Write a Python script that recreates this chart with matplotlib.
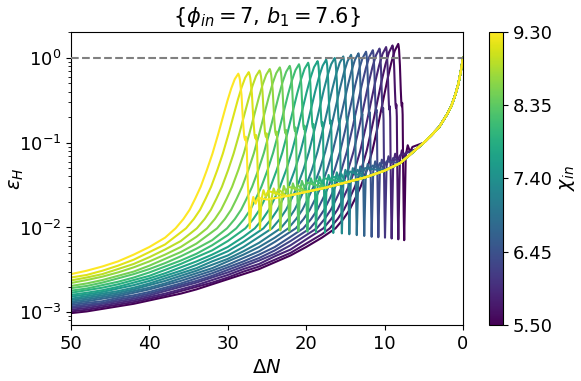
import matplotlib
matplotlib.use("Agg")
import matplotlib.pyplot as plt
import numpy as np

# colour parameter of each run
chi_in = [5.5, 5.7, 5.9, 6.1, 6.3, 6.5, 6.7, 6.9, 7.1, 7.3,
          7.5, 7.7, 7.9, 8.1, 8.3, 8.5, 8.7, 8.9, 9.1, 9.3]

# Delta N of the first big peak and of the deep dip after it
dn_peak = [8.26, 8.99, 9.81, 10.65, 11.50, 12.37, 13.33, 14.28, 15.27, 16.36,
           17.45, 18.55, 19.75, 20.92, 22.10, 23.37, 24.65, 25.95, 27.33, 28.66]
dn_trough = [7.50, 8.25, 9.10, 9.95, 10.80, 11.65, 12.60, 13.55, 14.50, 15.45,
             16.55, 17.60, 18.75, 19.85, 21.00, 22.15, 23.30, 24.60, 25.90, 27.20]

# log10(eps_H) at Delta N = 50
log_start = [-3.01, -2.99, -2.97, -2.95, -2.935, -2.915, -2.895, -2.875, -2.855, -2.84,
             -2.815, -2.795, -2.77, -2.745, -2.715, -2.69, -2.655, -2.625, -2.59, -2.55]

# slow rise: log10(eps_H) read at Delta N = 48, 46, 44, ... (each run until it nears its peak)
far_dn = [48, 46, 44, 42, 40, 38, 36, 34, 32, 30, 28, 26, 24, 22, 20, 18]
far_log = [
    [-2.99, -2.96, -2.93, -2.90, -2.86, -2.82, -2.78, -2.73, -2.67, -2.61, -2.55, -2.49, -2.41, -2.33, -2.23, -2.12],
    [-2.97, -2.94, -2.91, -2.88, -2.84, -2.80, -2.75, -2.70, -2.65, -2.59, -2.52, -2.46, -2.38, -2.30, -2.19, -2.08],
    [-2.95, -2.92, -2.89, -2.86, -2.82, -2.78, -2.73, -2.68, -2.62, -2.56, -2.49, -2.43, -2.34, -2.26, -2.14],
    [-2.93, -2.90, -2.87, -2.84, -2.80, -2.75, -2.70, -2.65, -2.59, -2.53, -2.46, -2.39, -2.31, -2.21, -2.09],
    [-2.91, -2.89, -2.85, -2.82, -2.78, -2.73, -2.68, -2.63, -2.57, -2.50, -2.43, -2.36, -2.27, -2.16],
    [-2.89, -2.87, -2.83, -2.80, -2.76, -2.71, -2.66, -2.60, -2.54, -2.47, -2.40, -2.32, -2.23, -2.11],
    [-2.87, -2.84, -2.81, -2.77, -2.73, -2.68, -2.63, -2.57, -2.51, -2.44, -2.36, -2.28, -2.17],
    [-2.85, -2.82, -2.79, -2.75, -2.71, -2.66, -2.60, -2.54, -2.48, -2.40, -2.32, -2.23, -2.12],
    [-2.83, -2.80, -2.77, -2.73, -2.68, -2.63, -2.57, -2.51, -2.44, -2.37, -2.28, -2.18],
    [-2.81, -2.78, -2.75, -2.71, -2.66, -2.60, -2.54, -2.48, -2.40, -2.33, -2.23, -2.11],
    [-2.79, -2.76, -2.72, -2.68, -2.63, -2.57, -2.51, -2.44, -2.36, -2.28, -2.17],
    [-2.77, -2.74, -2.70, -2.65, -2.60, -2.54, -2.47, -2.40, -2.32, -2.23, -2.11],
    [-2.74, -2.71, -2.67, -2.62, -2.57, -2.50, -2.43, -2.35, -2.27, -2.16],
    [-2.72, -2.68, -2.64, -2.59, -2.53, -2.46, -2.39, -2.31, -2.21, -2.09],
    [-2.69, -2.65, -2.60, -2.55, -2.49, -2.42, -2.34, -2.25, -2.15],
    [-2.66, -2.62, -2.57, -2.52, -2.45, -2.37, -2.29, -2.19],
    [-2.62, -2.58, -2.53, -2.47, -2.40, -2.32, -2.23, -2.11],
    [-2.59, -2.55, -2.49, -2.43, -2.35, -2.26, -2.16],
    [-2.56, -2.51, -2.45, -2.38, -2.29, -2.20],
    [-2.51, -2.46, -2.40, -2.32, -2.23, -2.12],
]

# steep rise, given as distance before the peak
rise_d = [8.0, 7.0, 6.2, 5.5, 4.8, 4.0]
rise_log = [-2.01, -1.90, -1.79, -1.66, -1.52, -1.32]
top_d = [3.3, 2.6, 2.0, 1.4, 0.9, 0.45, 0.0]
top_log = [
    [-1.095, -0.805, -0.534, -0.264, -0.062, 0.083, 0.165],
    [-1.097, -0.810, -0.543, -0.277, -0.077, 0.066, 0.147],
    [-1.099, -0.816, -0.553, -0.290, -0.093, 0.048, 0.128],
    [-1.100, -0.821, -0.562, -0.303, -0.108, 0.031, 0.110],
    [-1.102, -0.827, -0.571, -0.316, -0.125, 0.013, 0.091],
    [-1.104, -0.832, -0.580, -0.329, -0.140, -0.004, 0.073],
    [-1.106, -0.838, -0.590, -0.342, -0.156, -0.022, 0.054],
    [-1.108, -0.843, -0.599, -0.355, -0.171, -0.039, 0.036],
    [-1.110, -0.849, -0.608, -0.368, -0.187, -0.057, 0.017],
    [-1.111, -0.854, -0.617, -0.380, -0.203, -0.074, -0.001],
    [-1.113, -0.860, -0.627, -0.394, -0.219, -0.092, -0.020],
    [-1.115, -0.866, -0.636, -0.406, -0.234, -0.109, -0.038],
    [-1.117, -0.871, -0.645, -0.420, -0.250, -0.127, -0.057],
    [-1.119, -0.877, -0.654, -0.432, -0.266, -0.145, -0.075],
    [-1.121, -0.882, -0.664, -0.446, -0.282, -0.163, -0.094],
    [-1.123, -0.888, -0.673, -0.458, -0.297, -0.180, -0.112],
    [-1.124, -0.893, -0.682, -0.471, -0.313, -0.198, -0.131],
    [-1.126, -0.899, -0.691, -0.484, -0.329, -0.215, -0.149],
    [-1.128, -0.905, -0.701, -0.497, -0.345, -0.233, -0.168],
    [-1.130, -0.910, -0.710, -0.510, -0.360, -0.250, -0.186],
]

# fall from the peak down to the dip (fraction of the peak-to-dip distance)
fall_u = [0.07, 0.14, 0.28, 0.42, 0.52, 0.60, 0.66, 0.74, 0.83, 0.92, 1.0]
fall_log = [
    [0.140, 0.095, -0.085, -0.37, -0.53, -0.57, -0.53, -0.67, -1.35, -1.85, -2.15],
    [0.122, 0.077, -0.103, -0.39, -0.55, -0.59, -0.55, -0.69, -1.355, -1.84, -2.14],
    [0.103, 0.058, -0.122, -0.41, -0.57, -0.61, -0.57, -0.71, -1.36, -1.83, -2.13],
    [0.085, 0.040, -0.140, -0.43, -0.59, -0.63, -0.59, -0.73, -1.365, -1.82, -2.12],
    [0.066, 0.021, -0.159, -0.45, -0.61, -0.65, -0.61, -0.75, -1.37, -1.815, -2.115],
    [0.048, 0.003, -0.177, -0.48, -0.64, -0.68, -0.64, -0.78, -1.385, -1.81, -2.11],
    [0.029, -0.016, -0.196, -0.50, -0.66, -0.70, -0.66, -0.80, -1.39, -1.80, -2.10],
    [0.011, -0.034, -0.214, -0.52, -0.68, -0.72, -0.68, -0.82, -1.395, -1.79, -2.09],
    [-0.008, -0.053, -0.233, -0.54, -0.70, -0.74, -0.70, -0.84, -1.40, -1.78, -2.08],
    [-0.026, -0.071, -0.251, -0.56, -0.72, -0.76, -0.72, -0.86, -1.405, -1.77, -2.07],
    [-0.045, -0.090, -0.270, -0.58, -0.74, -0.78, -0.74, -0.88, -1.41, -1.765, -2.065],
    [-0.063, -0.108, -0.288, -0.60, -0.76, -0.80, -0.76, -0.90, -1.42, -1.76, -2.06],
    [-0.082, -0.127, -0.307, -0.62, -0.78, -0.82, -0.78, -0.92, -1.43, -1.755, -2.055],
    [-0.100, -0.145, -0.325, -0.64, -0.80, -0.84, -0.80, -0.94, -1.435, -1.75, -2.05],
    [-0.119, -0.164, -0.344, -0.66, -0.82, -0.86, -0.82, -0.96, -1.44, -1.745, -2.045],
    [-0.137, -0.182, -0.362, -0.69, -0.85, -0.89, -0.85, -0.99, -1.455, -1.74, -2.04],
    [-0.156, -0.201, -0.381, -0.71, -0.87, -0.91, -0.87, -1.01, -1.46, -1.735, -2.035],
    [-0.174, -0.219, -0.399, -0.73, -0.89, -0.93, -0.89, -1.03, -1.47, -1.73, -2.03],
    [-0.193, -0.238, -0.418, -0.75, -0.91, -0.95, -0.91, -1.05, -1.475, -1.72, -2.02],
    [-0.211, -0.256, -0.436, -0.77, -0.93, -0.97, -0.93, -1.07, -1.48, -1.71, -2.01],
]

# small wiggles after the dip (distance past the dip)
after_d = [0.2, 0.45, 0.75, 1.05]
after_log = [
    [-1.15, -1.03, -1.11, -1.05],
    [-1.21, -1.09, -1.17, -1.11],
    [-1.25, -1.13, -1.21, -1.15],
    [-1.28, -1.16, -1.24, -1.18],
    [-1.32, -1.20, -1.28, -1.22],
    [-1.34, -1.22, -1.30, -1.24],
    [-1.37, -1.25, -1.33, -1.27],
    [-1.40, -1.28, -1.36, -1.30],
    [-1.42, -1.30, -1.38, -1.32],
    [-1.44, -1.32, -1.40, -1.34],
    [-1.47, -1.35, -1.43, -1.37],
    [-1.50, -1.38, -1.46, -1.40],
    [-1.52, -1.40, -1.48, -1.42],
    [-1.54, -1.42, -1.50, -1.44],
    [-1.57, -1.45, -1.53, -1.47],
    [-1.60, -1.48, -1.56, -1.50],
    [-1.62, -1.51, -1.59, -1.52],
    [-1.65, -1.54, -1.62, -1.55],
    [-1.67, -1.56, -1.64, -1.57],
    [-1.75, -1.64, -1.72, -1.65],
]

# common late-time track that every run ends on
attr_dn = [25, 22.5, 20, 17.5, 15, 12.5, 10, 8, 6, 5, 4, 3, 2, 1.5, 1, 0.6, 0.3, 0]
attr_log = [-1.67, -1.63, -1.58, -1.53, -1.47, -1.41, -1.33, -1.24, -1.08, -1.00,
            -0.91, -0.81, -0.66, -0.57, -0.44, -0.31, -0.17, 0.0]

fig = plt.figure(figsize=(5.81, 3.81), dpi=100)
ax = fig.add_axes([0.1222, 0.147, 0.6747, 0.770])
cax = fig.add_axes([0.8417, 0.147, 0.0241, 0.770])

cmap = plt.cm.viridis
norm = matplotlib.colors.Normalize(vmin=5.5, vmax=9.3)

for i, chi in enumerate(chi_in):
    p, t = dn_peak[i], dn_trough[i]
    xs = [50.0] + far_dn[:len(far_log[i])]
    ys = [log_start[i]] + far_log[i]
    xs += [p + d for d in rise_d] + [p + d for d in top_d]
    ys += rise_log + top_log[i]
    xs += [p - u * (p - t) for u in fall_u]
    ys += fall_log[i]
    xs += [t - d for d in after_d]
    ys += after_log[i]
    for a, v in zip(attr_dn, attr_log):
        if a < t - 1.5:
            xs.append(a)
            ys.append(v)
    ax.plot(xs, 10 ** np.array(ys), color=cmap(norm(chi)), lw=1.5)

ax.axhline(1.0, color='gray', ls='--', lw=1.5, zorder=5)

ax.set_yscale('log')
ax.set_xlim(50, 0)
ax.set_ylim(10 ** -3.15, 10 ** 0.31)
ax.tick_params(labelsize=13)
ax.set_xlabel(r'$\Delta N$', fontsize=14)
ax.set_ylabel(r'$\epsilon_H$', fontsize=14)
ax.yaxis.set_label_coords(-0.115, 0.5)
ax.set_title(r'$\{\phi_{in}=7$, $b_1=7.6\}$', fontsize=15)

sm = matplotlib.cm.ScalarMappable(norm=norm, cmap=cmap)
cb = fig.colorbar(sm, cax=cax, ticks=[5.5, 6.45, 7.4, 8.35, 9.3], format='%.2f')
cb.ax.tick_params(labelsize=13)
cb.set_label(r'$\chi_{in}$', fontsize=14)

fig.savefig('out.png', dpi=100)
